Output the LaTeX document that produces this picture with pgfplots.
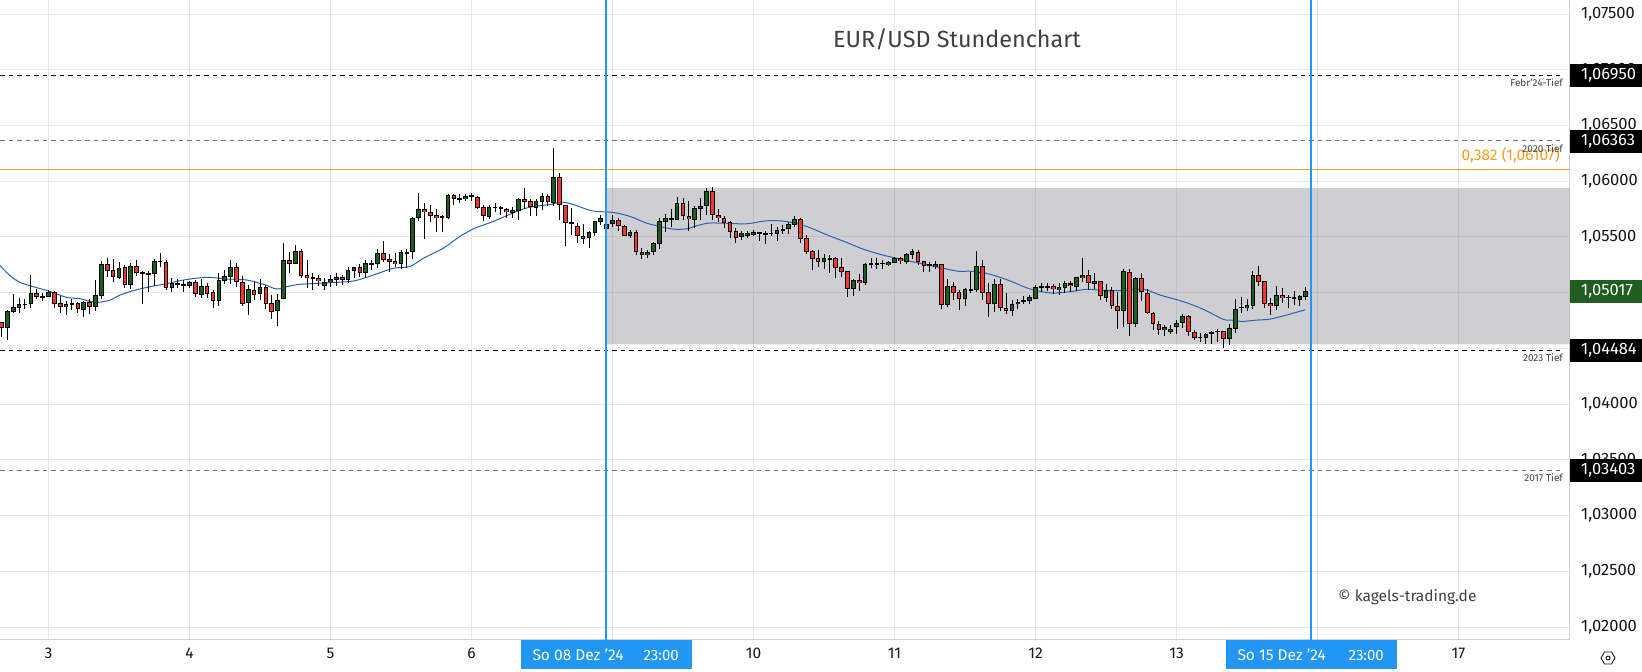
\documentclass[border=0pt]{standalone}
\usepackage{pgfplots}
\usepackage{pgfplotstable}
\usepackage{fontspec}
\pgfplotsset{compat=1.18}
\setmainfont{Fira Sans}
\definecolor{gridc}{RGB}{232,232,236}
\definecolor{spinec}{RGB}{208,208,212}
\definecolor{upc}{RGB}{27,94,32}
\definecolor{downc}{RGB}{244,54,44}
\definecolor{orangec}{RGB}{245,157,30}
\definecolor{bluec}{RGB}{33,150,243}
\definecolor{mac}{RGB}{42,98,176}
\definecolor{txtc}{RGB}{19,23,34}
\definecolor{labgreen}{RGB}{31,94,32}
\definecolor{boxc}{RGB}{117,117,130}
\pgfplotstableread{
k o h l c
-7 1.04685 1.04844 1.04580 1.04832
-6 1.04829 1.04988 1.04820 1.04868
-5 1.04865 1.04949 1.04820 1.04895
-4 1.04895 1.04940 1.04853 1.04898
-3 1.04895 1.05159 1.04865 1.04994
0 1.04958 1.05024 1.04958 1.05006
3 1.04874 1.04925 1.04799 1.04895
4 1.04895 1.04943 1.04844 1.04904
6 1.04847 1.04925 1.04784 1.04913
8 1.04874 1.05114 1.04835 1.04976
9 1.04973 1.05285 1.04946 1.05255
12 1.05135 1.05276 1.05120 1.05219
14 1.05072 1.05264 1.05033 1.05237
17 1.05165 1.05192 1.05006 1.05174
18 1.05171 1.05300 1.05060 1.05282
19 1.05276 1.05357 1.05228 1.05285
21 1.05039 1.05129 1.05006 1.05084
22 1.05072 1.05120 1.05042 1.05084
24 1.05063 1.05108 1.05045 1.05093
26 1.04982 1.05123 1.04955 1.05057
29 1.04928 1.05174 1.04883 1.05111
30 1.05108 1.05204 1.05075 1.05147
31 1.05144 1.05291 1.05081 1.05228
34 1.04904 1.05069 1.04802 1.05030
36 1.04985 1.05120 1.04934 1.05048
39 1.04832 1.04988 1.04703 1.04931
40 1.04940 1.05444 1.04940 1.05291
42 1.05261 1.05426 1.05255 1.05372
47 1.05063 1.05129 1.05024 1.05093
48 1.05099 1.05156 1.05054 1.05120
49 1.05117 1.05174 1.05060 1.05141
51 1.05117 1.05231 1.05090 1.05201
52 1.05198 1.05228 1.05135 1.05228
54 1.05180 1.05294 1.05141 1.05264
55 1.05252 1.05294 1.05204 1.05264
56 1.05255 1.05393 1.05225 1.05354
60 1.05255 1.05384 1.05216 1.05363
61 1.05360 1.05393 1.05222 1.05363
62 1.05363 1.05678 1.05306 1.05669
63 1.05669 1.05897 1.05639 1.05750
67 1.05678 1.05696 1.05546 1.05684
68 1.05675 1.05885 1.05660 1.05876
70 1.05837 1.05888 1.05801 1.05843
71 1.05837 1.05885 1.05825 1.05867
72 1.05864 1.05894 1.05819 1.05870
75 1.05684 1.05786 1.05660 1.05768
76 1.05759 1.05807 1.05720 1.05771
79 1.05720 1.05768 1.05672 1.05744
80 1.05738 1.05849 1.05654 1.05840
83 1.05765 1.05840 1.05690 1.05822
84 1.05816 1.05897 1.05744 1.05867
86 1.05810 1.06302 1.05774 1.06038
92 1.05486 1.05555 1.05402 1.05543
93 1.05540 1.05642 1.05510 1.05642
94 1.05633 1.05699 1.05603 1.05669
95 1.05570 1.05648 1.05546 1.05615
96 1.05615 1.05699 1.05585 1.05651
99 1.05513 1.05564 1.05495 1.05543
102 1.05342 1.05384 1.05315 1.05363
103 1.05369 1.05459 1.05339 1.05444
104 1.05441 1.05669 1.05393 1.05642
105 1.05639 1.05705 1.05549 1.05669
106 1.05660 1.05753 1.05585 1.05669
107 1.05657 1.05861 1.05654 1.05804
110 1.05657 1.05774 1.05579 1.05759
111 1.05753 1.05852 1.05654 1.05777
112 1.05774 1.05939 1.05699 1.05912
118 1.05495 1.05555 1.05474 1.05534
119 1.05513 1.05558 1.05492 1.05537
120 1.05522 1.05564 1.05510 1.05546
122 1.05531 1.05552 1.05438 1.05534
123 1.05531 1.05618 1.05510 1.05537
124 1.05531 1.05585 1.05465 1.05561
125 1.05564 1.05603 1.05528 1.05570
126 1.05567 1.05633 1.05528 1.05615
127 1.05612 1.05684 1.05585 1.05663
132 1.05279 1.05345 1.05213 1.05309
133 1.05303 1.05339 1.05174 1.05309
137 1.05036 1.05123 1.04970 1.05111
139 1.05090 1.05270 1.05066 1.05255
140 1.05252 1.05309 1.05225 1.05264
141 1.05258 1.05309 1.05213 1.05264
142 1.05261 1.05291 1.05213 1.05267
143 1.05252 1.05282 1.05243 1.05273
144 1.05270 1.05318 1.05270 1.05309
146 1.05279 1.05354 1.05261 1.05345
147 1.05342 1.05393 1.05306 1.05372
151 1.05234 1.05282 1.05210 1.05255
153 1.04892 1.05120 1.04874 1.05057
156 1.04946 1.05045 1.04880 1.05030
157 1.05027 1.05189 1.05000 1.05030
158 1.05024 1.05375 1.05009 1.05237
161 1.04901 1.05120 1.04826 1.05075
164 1.04838 1.04934 1.04790 1.04904
165 1.04901 1.04943 1.04853 1.04922
166 1.04919 1.04970 1.04898 1.04934
167 1.04928 1.04979 1.04898 1.04958
168 1.04946 1.05066 1.04946 1.05048
169 1.05051 1.05090 1.05009 1.05057
170 1.05051 1.05090 1.05018 1.05057
172 1.05027 1.05090 1.04982 1.05048
173 1.05045 1.05102 1.05000 1.05087
175 1.05054 1.05144 1.05015 1.05138
176 1.05135 1.05312 1.05093 1.05156
178 1.05081 1.05174 1.05033 1.05105
180 1.04955 1.05075 1.04916 1.05021
183 1.04838 1.05216 1.04694 1.05192
185 1.04724 1.05144 1.04694 1.05129
190 1.04667 1.04709 1.04610 1.04691
191 1.04649 1.04706 1.04625 1.04679
192 1.04694 1.04754 1.04625 1.04733
193 1.04730 1.04808 1.04679 1.04796
196 1.04598 1.04640 1.04559 1.04601
197 1.04595 1.04640 1.04538 1.04634
198 1.04637 1.04658 1.04544 1.04643
201 1.04586 1.04715 1.04535 1.04688
202 1.04679 1.04943 1.04640 1.04859
203 1.04865 1.04958 1.04817 1.04871
204 1.04865 1.04946 1.04835 1.04886
205 1.04883 1.05192 1.04853 1.05156
209 1.04883 1.05057 1.04844 1.04976
211 1.04955 1.04979 1.04862 1.04961
212 1.04949 1.05018 1.04886 1.04958
213 1.04937 1.04979 1.04880 1.04967
214 1.04964 1.05048 1.04934 1.05017
}\upcandles
\pgfplotstableread{
k o h l c
-8 1.04733 1.04739 1.04598 1.04685
-2 1.04994 1.05033 1.04943 1.04964
-1 1.04967 1.04994 1.04925 1.04958
1 1.05003 1.05012 1.04859 1.04901
2 1.04904 1.04970 1.04820 1.04874
5 1.04904 1.04919 1.04814 1.04850
7 1.04913 1.04940 1.04808 1.04874
10 1.05255 1.05312 1.05144 1.05198
11 1.05201 1.05300 1.05099 1.05144
13 1.05228 1.05249 1.05042 1.05072
15 1.05237 1.05294 1.05153 1.05180
16 1.05183 1.05198 1.04898 1.05165
20 1.05273 1.05294 1.05024 1.05039
23 1.05075 1.05114 1.05006 1.05066
25 1.05093 1.05114 1.04964 1.04985
27 1.05057 1.05084 1.04949 1.04991
28 1.05003 1.05024 1.04865 1.04928
32 1.05228 1.05264 1.05051 1.05093
33 1.05093 1.05150 1.04883 1.04901
35 1.05030 1.05093 1.04934 1.04985
37 1.05048 1.05069 1.04856 1.04901
38 1.04904 1.04979 1.04766 1.04829
41 1.05291 1.05366 1.05180 1.05261
43 1.05372 1.05390 1.05135 1.05153
44 1.05156 1.05294 1.05045 1.05135
45 1.05141 1.05174 1.05024 1.05129
46 1.05129 1.05156 1.05060 1.05108
50 1.05141 1.05156 1.05069 1.05117
53 1.05228 1.05255 1.05144 1.05180
57 1.05354 1.05465 1.05276 1.05297
58 1.05303 1.05348 1.05189 1.05279
59 1.05282 1.05354 1.05231 1.05255
64 1.05750 1.05804 1.05483 1.05723
65 1.05723 1.05789 1.05630 1.05693
66 1.05696 1.05750 1.05549 1.05669
69 1.05876 1.05885 1.05789 1.05840
73 1.05858 1.05870 1.05750 1.05765
74 1.05768 1.05789 1.05639 1.05687
77 1.05762 1.05780 1.05696 1.05756
78 1.05750 1.05759 1.05666 1.05723
81 1.05843 1.05942 1.05750 1.05819
82 1.05822 1.05840 1.05690 1.05768
85 1.05867 1.05882 1.05774 1.05810
87 1.06038 1.06077 1.05654 1.05783
88 1.05786 1.05786 1.05420 1.05630
89 1.05633 1.05762 1.05519 1.05621
90 1.05597 1.05624 1.05444 1.05507
91 1.05507 1.05618 1.05438 1.05486
97 1.05651 1.05666 1.05558 1.05597
98 1.05597 1.05609 1.05513 1.05513
100 1.05543 1.05564 1.05342 1.05369
101 1.05369 1.05399 1.05300 1.05342
108 1.05804 1.05852 1.05654 1.05687
109 1.05687 1.05819 1.05558 1.05657
113 1.05912 1.05948 1.05654 1.05702
114 1.05696 1.05750 1.05633 1.05666
115 1.05669 1.05684 1.05579 1.05630
116 1.05633 1.05645 1.05489 1.05549
117 1.05552 1.05579 1.05447 1.05495
121 1.05543 1.05543 1.05465 1.05534
128 1.05663 1.05669 1.05450 1.05486
129 1.05489 1.05516 1.05351 1.05369
130 1.05372 1.05384 1.05204 1.05306
131 1.05309 1.05384 1.05234 1.05279
134 1.05312 1.05318 1.05135 1.05225
135 1.05228 1.05309 1.05144 1.05189
136 1.05192 1.05192 1.04964 1.05036
138 1.05111 1.05165 1.05015 1.05090
145 1.05309 1.05318 1.05258 1.05282
148 1.05363 1.05384 1.05249 1.05279
149 1.05282 1.05282 1.05186 1.05243
150 1.05249 1.05273 1.05186 1.05243
152 1.05255 1.05255 1.04853 1.04892
154 1.05057 1.05096 1.04934 1.05000
155 1.05003 1.05024 1.04844 1.04946
159 1.05237 1.05294 1.04934 1.05000
160 1.05003 1.05084 1.04784 1.04901
162 1.05075 1.05123 1.04838 1.04865
163 1.04868 1.04997 1.04805 1.04838
171 1.05057 1.05075 1.04988 1.05030
174 1.05084 1.05105 1.05009 1.05063
177 1.05156 1.05204 1.05024 1.05090
179 1.05102 1.05105 1.04934 1.04967
181 1.05021 1.05054 1.04850 1.04883
182 1.04886 1.05003 1.04676 1.04838
184 1.05183 1.05213 1.04613 1.04724
186 1.05129 1.05177 1.04925 1.05003
187 1.05003 1.05030 1.04808 1.04820
188 1.04823 1.04823 1.04664 1.04721
189 1.04724 1.04745 1.04619 1.04667
194 1.04787 1.04802 1.04613 1.04643
195 1.04643 1.04664 1.04574 1.04595
199 1.04655 1.04670 1.04556 1.04652
200 1.04652 1.04658 1.04502 1.04586
206 1.05156 1.05240 1.05060 1.05099
207 1.05102 1.05102 1.04862 1.04901
208 1.04904 1.04949 1.04799 1.04883
210 1.04976 1.05045 1.04904 1.04955
}\downcandles
\pgfplotstableread{
k p
-8.25 1.05243
-6.55 1.05153
-4.85 1.05093
-2.6 1.05054
0 1.05015
3.1 1.04958
5.4 1.04946
7.1 1.04922
8.8 1.04916
10.5 1.04934
12.2 1.04979
14.4 1.05018
17.3 1.05054
20.1 1.05081
23 1.05114
26.9 1.05138
30.3 1.05123
33.7 1.05114
36.6 1.05075
38.8 1.05033
40.5 1.05054
42.8 1.05075
46.8 1.05087
51.9 1.05105
55.3 1.05159
58.7 1.05219
61.5 1.05234
63.8 1.05309
67.2 1.05399
70 1.05504
72.6 1.05579
75.7 1.05639
79.7 1.05729
82 1.05768
85.4 1.05792
87.3 1.05813
89.3 1.05792
92.5 1.05735
96.1 1.05720
99 1.05684
101.8 1.05624
104.1 1.05594
106.4 1.05570
108.6 1.05573
110.3 1.05600
112.3 1.05624
114.9 1.05624
118.8 1.05618
122.2 1.05645
125.6 1.05639
129.05 1.05594
132.5 1.05519
135.9 1.05450
138.7 1.05390
141.5 1.05345
143.8 1.05315
148.3 1.05264
152.3 1.05219
154.9 1.05192
157.1 1.05192
160.3 1.05165
163.7 1.05105
167.1 1.05033
170.7 1.04997
173.9 1.05009
176.7 1.05030
179.5 1.05021
182.4 1.05018
186.4 1.05030
189.2 1.04979
193.2 1.04919
196.6 1.04850
200 1.04760
201.4 1.04754
203.1 1.04742
205.6 1.04754
207.9 1.04763
210.7 1.04799
213.9 1.04847
}\matable
\newcommand{\cmid}{((\thisrow{o}+\thisrow{c})/2)}
\newcommand{\chalf}{(abs(\thisrow{o}-\thisrow{c})/2)}
\newcommand{\candles}[2]{%
  \addplot[draw=none,mark=none,forget plot,error bars/.cd,y dir=both,y explicit,error mark=none,
    error bar style={draw=black,solid,line width=1pt}]
    table[x=k,y expr={\cmid},y error plus expr={\thisrow{h}-\cmid},y error minus expr={\cmid-\thisrow{l}}] {#1};
  \addplot[draw=none,mark=none,forget plot,error bars/.cd,y dir=both,y explicit,error mark=none,
    error bar style={draw=black,solid,line width=4.7pt}]
    table[x=k,y expr={\cmid},y error expr={max(\chalf,0.00007)}] {#1};
  \addplot[draw=none,mark=none,forget plot,error bars/.cd,y dir=both,y explicit,error mark=none,
    error bar style={draw=#2,solid,line width=2.7pt}]
    table[x=k,y expr={\cmid},y error expr={max(\chalf-0.00009,0)}] {#1};
}
\newcommand{\pricetag}[3]{%
  \fill[#1] (1570pt,{640pt-#2pt-11.5pt}) rectangle (1642pt,{640pt-#2pt+11.5pt});
  \node[anchor=west,inner sep=0pt,text=white,font=\fontsize{16.5pt}{17pt}\selectfont] at (1581pt,{640pt-#2pt}) {#3};
}
\begin{document}
\begin{tikzpicture}
\useasboundingbox (0pt,-32pt) rectangle (1642pt,640pt);
\begin{axis}[
  scale only axis,width=1569.5pt,height=640pt,
  xmin=-8.255,xmax=258.89,ymin=1.018838,ymax=1.076263,
  axis x line*=bottom,axis y line*=right,
  axis line style={draw=spinec,line width=1pt,-},
  major tick length=0pt,
  grid=major,grid style={draw=gridc,line width=1pt},
  xtick={0,24,48,72,96,120,144,168,192,216,240},
  xticklabels={3,4,5,6,,10,11,12,13,,17},
  ytick={1.02,1.025,1.03,1.035,1.04,1.045,1.05,1.055,1.06,1.065,1.07,1.075},
  yticklabels={{1,02000},{1,02500},{1,03000},{1,03500},{1,04000},{},{},{1,05500},{1,06000},{1,06500},{1,07000},{1,07500}},
  yticklabel style={anchor=west,inner sep=0pt,xshift=11.5pt,font=\fontsize{16.5pt}{17pt}\selectfont,text=txtc},
  xticklabel style={inner sep=0pt,yshift=-8pt,font=\fontsize{15.5pt}{16pt}\selectfont,text=txtc},
  clip=true,
]
\addplot[draw=none,fill=boxc,fill opacity=0.35,forget plot] coordinates {(94.9,1.05939)(258.89,1.05939)(258.89,1.04537)(94.9,1.04537)} \closedcycle;
\addplot[draw=black,line width=1.1pt,dash pattern=on 4.5pt off 4pt,forget plot] coordinates {(-8.255,1.0695)(257.9,1.0695)};
\addplot[draw=black!55,line width=1.1pt,dash pattern=on 4.5pt off 4pt,forget plot] coordinates {(-8.255,1.06363)(257.9,1.06363)};
\addplot[draw=black,line width=1.1pt,dash pattern=on 4.5pt off 4pt,forget plot] coordinates {(-8.255,1.04484)(257.9,1.04484)};
\addplot[draw=black!55,line width=1.1pt,dash pattern=on 4.5pt off 4pt,forget plot] coordinates {(-8.255,1.03403)(257.9,1.03403)};
\addplot[draw=orangec,line width=1.1pt,forget plot] coordinates {(-8.255,1.06107)(258.89,1.06107)};
\addplot[draw=mac,line width=1pt,smooth,forget plot] table[x=k,y=p] {\matable};
\candles{\upcandles}{upc}
\candles{\downcandles}{downc}
\addplot[draw=bluec,line width=2pt,forget plot] coordinates {(94.9,1.018838)(94.9,1.076263)};
\addplot[draw=bluec,line width=2pt,forget plot] coordinates {(214.85,1.018838)(214.85,1.076263)};
\end{axis}
% annotations, in picture coordinates
\node[text=black!75,font=\fontsize{23.4pt}{26pt}\selectfont] at (957pt,{640pt-39pt}) {EUR/USD Stundenchart};
\node[text=black!75,font=\fontsize{15.5pt}{17pt}\selectfont,anchor=west,inner sep=0pt] at (1338pt,{640pt-597pt}) {© kagels-trading.de};
\node[text=orangec,font=\fontsize{15.5pt}{16pt}\selectfont,anchor=east,inner sep=0pt] at (1560pt,{640pt-155pt}) {0,382 (1,06107)};
\foreach \lab/\yy in {Febr'24-Tief/83,2020 Tief/149,2023 Tief/358,2017 Tief/478}{
  \node[text=black!75,font=\fontsize{10pt}{11pt}\selectfont,anchor=east,inner sep=0pt] at (1563pt,{640pt-\yy pt}) {\lab};
}
\pricetag{black}{75.5}{1,06950}
\pricetag{black}{141.5}{1,06363}
\pricetag{labgreen}{291.5}{1,05017}
\pricetag{black}{350.5}{1,04484}
\pricetag{black}{470.5}{1,03403}
\fill[bluec] (521pt,-29pt) rectangle (691.7pt,0pt);
\fill[bluec] (1226pt,-29pt) rectangle (1396.7pt,0pt);
\node[text=white,font=\fontsize{15.5pt}{16pt}\selectfont,inner sep=0pt,anchor=west] at (532.3pt,-15pt) {So 08 Dez '24};
\node[text=white,font=\fontsize{15pt}{16pt}\selectfont,inner sep=0pt,anchor=east] at (679pt,-15pt) {23:00};
\node[text=white,font=\fontsize{15.5pt}{16pt}\selectfont,inner sep=0pt,anchor=west] at (1237.3pt,-15pt) {So 15 Dez '24};
\node[text=white,font=\fontsize{15pt}{16pt}\selectfont,inner sep=0pt,anchor=east] at (1384pt,-15pt) {23:00};
\draw[txtc,line width=0.9pt] (1601pt,-18pt)--(1604.5pt,-12pt)--(1611.5pt,-12pt)--(1615pt,-18pt)--(1611.5pt,-24pt)--(1604.5pt,-24pt)--cycle;
\draw[txtc,line width=0.9pt] (1608pt,-18pt) circle (2pt);
\end{tikzpicture}
\end{document}
